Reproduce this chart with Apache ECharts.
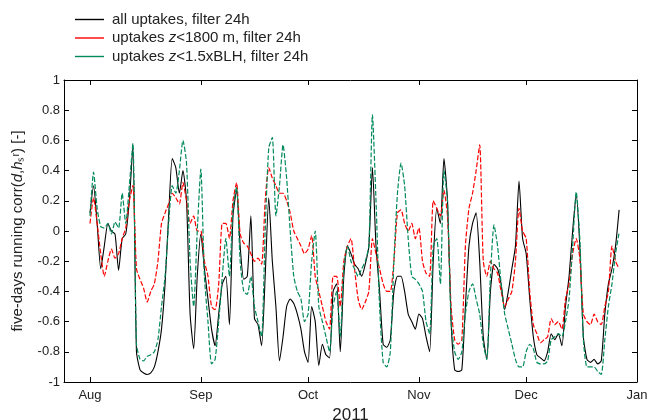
<!DOCTYPE html>
<html>
<head>
<meta charset="utf-8">
<script src="https://cdn.jsdelivr.net/npm/echarts@6/dist/echarts.min.js"></script>
<style>html,body{margin:0;padding:0;background:#fff}#c{width:649px;height:420px}</style>
</head>
<body>
<div id="c"></div>
<script>
// x positions: days since 1 Aug 2011 (one sample per day)
const dayStart = 0, dayEnd = 148;
const monthTicks = [0, 31, 61, 92, 122, 153];
const monthLabels = ['Aug', 'Sep', 'Oct', 'Nov', 'Dec', 'Jan'];
const seriesNames = ['all uptakes, filter 24h', 'uptakes z<1800 m, filter 24h', 'uptakes z<1.5xBLH, filter 24h'];

const allUptakes = [
 0.12,0.30,0.05,-0.25,-0.10,0.05,0.00,-0.02,-0.26,-0.05,
 -0.02,0.20,0.56,-0.80,-0.92,-0.94,-0.95,-0.94,-0.90,-0.80,
 -0.65,-0.35,0.10,0.48,0.42,0.25,0.40,0.20,-0.55,-0.78,
 -0.30,-0.02,-0.25,-0.45,-0.65,-0.76,-0.55,-0.35,-0.30,-0.62,
 0.10,0.27,-0.10,-0.32,-0.30,0.10,-0.58,-0.62,-0.76,-0.30,
 0.22,-0.20,-0.50,-0.86,-0.70,-0.50,-0.45,-0.48,-0.55,-0.65,
 -0.80,-0.87,-0.50,-0.60,-0.89,-0.75,-0.82,-0.84,-0.40,-0.35,
 -0.80,-0.30,-0.10,-0.15,-0.22,-0.25,-0.30,-0.22,-0.10,0.42,
 -0.10,-0.40,-0.75,-0.77,-0.72,-0.40,-0.30,-0.30,-0.40,-0.55,
 -0.60,-0.65,-0.55,-0.58,-0.70,-0.80,-0.20,0.15,0.05,0.48,
 0.20,-0.60,-0.92,-0.93,-0.92,-0.50,-0.10,0.05,0.12,-0.20,
 -0.70,-0.85,-0.40,-0.22,-0.25,-0.35,-0.52,-0.40,-0.25,-0.10,
 0.33,-0.05,-0.15,-0.45,-0.70,-0.82,-0.84,-0.86,-0.80,-0.68,
 -0.72,-0.68,-0.76,-0.50,-0.30,0.00,0.24,-0.10,-0.70,-0.85,
 -0.87,-0.85,-0.88,-0.86,-0.55,-0.35,-0.25,-0.10,0.14
];
const uptakes1800 = [
 0.05,0.22,0.05,-0.15,-0.30,-0.20,-0.12,-0.18,-0.15,-0.05,
 0.02,0.20,0.30,-0.25,-0.32,-0.38,-0.47,-0.40,-0.35,-0.20,
 0.05,0.12,0.18,0.25,0.22,0.18,0.32,0.20,0.05,0.10,
 0.00,0.00,-0.20,-0.30,-0.50,-0.52,-0.35,0.05,0.05,-0.05,
 0.20,0.32,-0.02,-0.08,-0.10,-0.15,-0.20,-0.18,-0.22,0.20,
 0.42,0.35,0.30,0.25,0.25,0.20,0.12,0.00,-0.05,-0.10,
 -0.15,-0.12,-0.03,-0.30,-0.40,-0.50,-0.60,-0.65,-0.30,-0.30,
 -0.50,-0.20,-0.10,-0.05,-0.25,-0.45,-0.52,-0.47,-0.40,-0.05,
 -0.15,-0.25,-0.35,-0.40,-0.40,-0.20,0.12,0.14,0.05,0.00,
 0.05,-0.05,0.02,-0.20,-0.28,-0.30,0.20,0.15,0.10,0.27,
 0.10,-0.50,-0.72,-0.75,-0.72,-0.10,0.15,0.25,0.40,0.57,
 -0.20,-0.30,-0.20,-0.25,-0.28,-0.40,-0.50,-0.45,-0.40,-0.20,
 0.15,0.00,-0.05,-0.40,-0.62,-0.68,-0.74,-0.72,-0.70,-0.58,
 -0.62,-0.60,-0.65,-0.45,-0.35,-0.15,-0.05,-0.18,-0.55,-0.60,
 -0.62,-0.55,-0.60,-0.62,-0.50,-0.40,-0.10,-0.20,-0.25
];
const uptakesBLH = [
 0.10,0.39,0.15,0.03,0.02,0.05,-0.02,0.06,0.02,0.25,
 0.05,0.30,0.58,-0.75,-0.85,-0.86,-0.83,-0.82,-0.80,-0.72,
 -0.50,-0.30,0.05,0.30,0.25,0.40,0.60,0.45,-0.20,-0.50,
 0.00,0.41,-0.30,-0.60,-0.88,-0.85,-0.60,-0.30,-0.05,-0.30,
 0.15,0.29,-0.20,-0.40,-0.42,-0.30,-0.50,-0.60,-0.70,0.00,
 0.55,0.62,0.10,0.30,0.57,0.35,0.00,-0.30,-0.40,-0.45,
 -0.60,-0.55,-0.20,0.00,-0.50,-0.60,-0.70,-0.80,-0.50,-0.40,
 -0.70,-0.25,-0.10,-0.20,-0.25,-0.30,-0.25,-0.20,-0.10,0.77,
 0.20,-0.50,-0.87,-0.90,-0.80,-0.20,0.25,0.45,0.30,-0.05,
 -0.30,-0.32,-0.35,-0.40,-0.60,-0.68,-0.10,-0.05,-0.35,0.40,
 0.20,-0.60,-0.80,-0.85,-0.80,-0.55,-0.40,-0.35,-0.45,-0.55,
 -0.75,-0.85,-0.30,0.04,-0.10,-0.35,-0.55,-0.65,-0.75,-0.85,
 -0.90,-0.90,-0.80,-0.75,-0.78,-0.87,-0.88,-0.88,-0.86,-0.72,
 -0.70,-0.68,-0.70,-0.60,-0.45,-0.10,0.26,-0.05,-0.72,-0.90,
 -0.90,-0.90,-0.93,-0.95,-0.72,-0.50,-0.35,-0.15,-0.01
];

const days = [];
for (let d = dayStart; d <= dayEnd; d++) days.push(d);
const pairs = vals => days.map((d, i) => [d, vals[i]]);

const FONT = 'Liberation Sans, Arial, Helvetica, sans-serif';
const TXT = '#222';
const chart = echarts.init(document.getElementById('c'), null, {renderer: 'canvas'});

const legendFmt = name => {
  if (name === seriesNames[1]) return '{n|uptakes }{i|z}{n|<1800 m, filter 24h}';
  if (name === seriesNames[2]) return '{n|uptakes }{i|z}{n|<1.5xBLH, filter 24h}';
  return '{n|' + name + '}';
};

const xBase = {
  type: 'value', min: -7.27, max: 153,
  axisLine: {show: true, onZero: false, lineStyle: {color: '#000', width: 1}},
  splitLine: {show: false}
};
const yBase = {
  type: 'value', min: -1, max: 1, interval: 0.2,
  axisLine: {show: true, onZero: false, lineStyle: {color: '#000', width: 1}},
  splitLine: {show: false}
};

chart.setOption({
  animation: false,
  backgroundColor: '#fff',
  grid: {left: 64, right: 12, top: 80, bottom: 38, containLabel: false, outerBoundsMode: 'none'},
  legend: {
    orient: 'vertical', left: 70, top: 7, itemWidth: 29, itemHeight: 1.4, itemGap: 3.5,
    icon: 'rect',
    data: seriesNames,
    formatter: legendFmt,
    textStyle: {
      color: TXT, fontFamily: FONT, fontSize: 15, padding: [0, 0, 0, 3],
      rich: {
        n: {color: TXT, fontFamily: FONT, fontSize: 15, lineHeight: 17.5},
        i: {color: TXT, fontFamily: FONT, fontSize: 15, fontStyle: 'italic', lineHeight: 17.5}
      }
    }
  },
  xAxis: [
    Object.assign({}, xBase, {
      position: 'bottom',
      name: '2011', nameLocation: 'middle', nameGap: 19,
      nameTextStyle: {color: TXT, fontFamily: FONT, fontSize: 17},
      axisTick: {show: true, inside: true, length: 5, customValues: monthTicks, lineStyle: {color: '#000'}},
      axisLabel: {show: true, customValues: monthTicks, margin: 7, color: TXT, fontFamily: FONT, fontSize: 13,
        formatter: v => monthLabels[monthTicks.indexOf(v)] || ''}
    }),
    Object.assign({}, xBase, {
      position: 'top',
      axisTick: {show: true, inside: true, length: 5, customValues: monthTicks, lineStyle: {color: '#000'}},
      axisLabel: {show: false}
    })
  ],
  yAxis: [
    Object.assign({}, yBase, {
      position: 'left',
      name: '{n|five-days running corr(}{i|d},{i|h}{n|ₛʳ) [-]}',
      nameLocation: 'middle', nameRotate: 90, nameGap: 39,
      nameTextStyle: {color: TXT, fontFamily: FONT, fontSize: 15,
        rich: {
          n: {color: TXT, fontFamily: FONT, fontSize: 15},
          i: {color: TXT, fontFamily: FONT, fontSize: 15, fontStyle: 'italic'}
        }},
      axisTick: {show: true, inside: true, length: 5, lineStyle: {color: '#000'}},
      axisLabel: {show: true, margin: 4, color: TXT, fontFamily: FONT, fontSize: 13}
    }),
    Object.assign({}, yBase, {
      position: 'right',
      axisTick: {show: true, inside: true, length: 5, lineStyle: {color: '#000'}},
      axisLabel: {show: false}
    })
  ],
  series: [
    {name: seriesNames[0], type: 'line', data: pairs(allUptakes), showSymbol: false, symbol: 'none', smooth: 0.2,
      lineStyle: {color: '#000000', width: 1.1}, itemStyle: {color: '#000000'}},
    {name: seriesNames[1], type: 'line', data: pairs(uptakes1800), showSymbol: false, symbol: 'none', smooth: 0.2,
      lineStyle: {color: '#ff0000', width: 1.2, type: [5, 2]}, itemStyle: {color: '#ff0000'}},
    {name: seriesNames[2], type: 'line', data: pairs(uptakesBLH), showSymbol: false, symbol: 'none', smooth: 0.2,
      lineStyle: {color: '#008a5a', width: 1.2, type: [5, 2]}, itemStyle: {color: '#008a5a'}}
  ]
});
</script>
</body>
</html>
